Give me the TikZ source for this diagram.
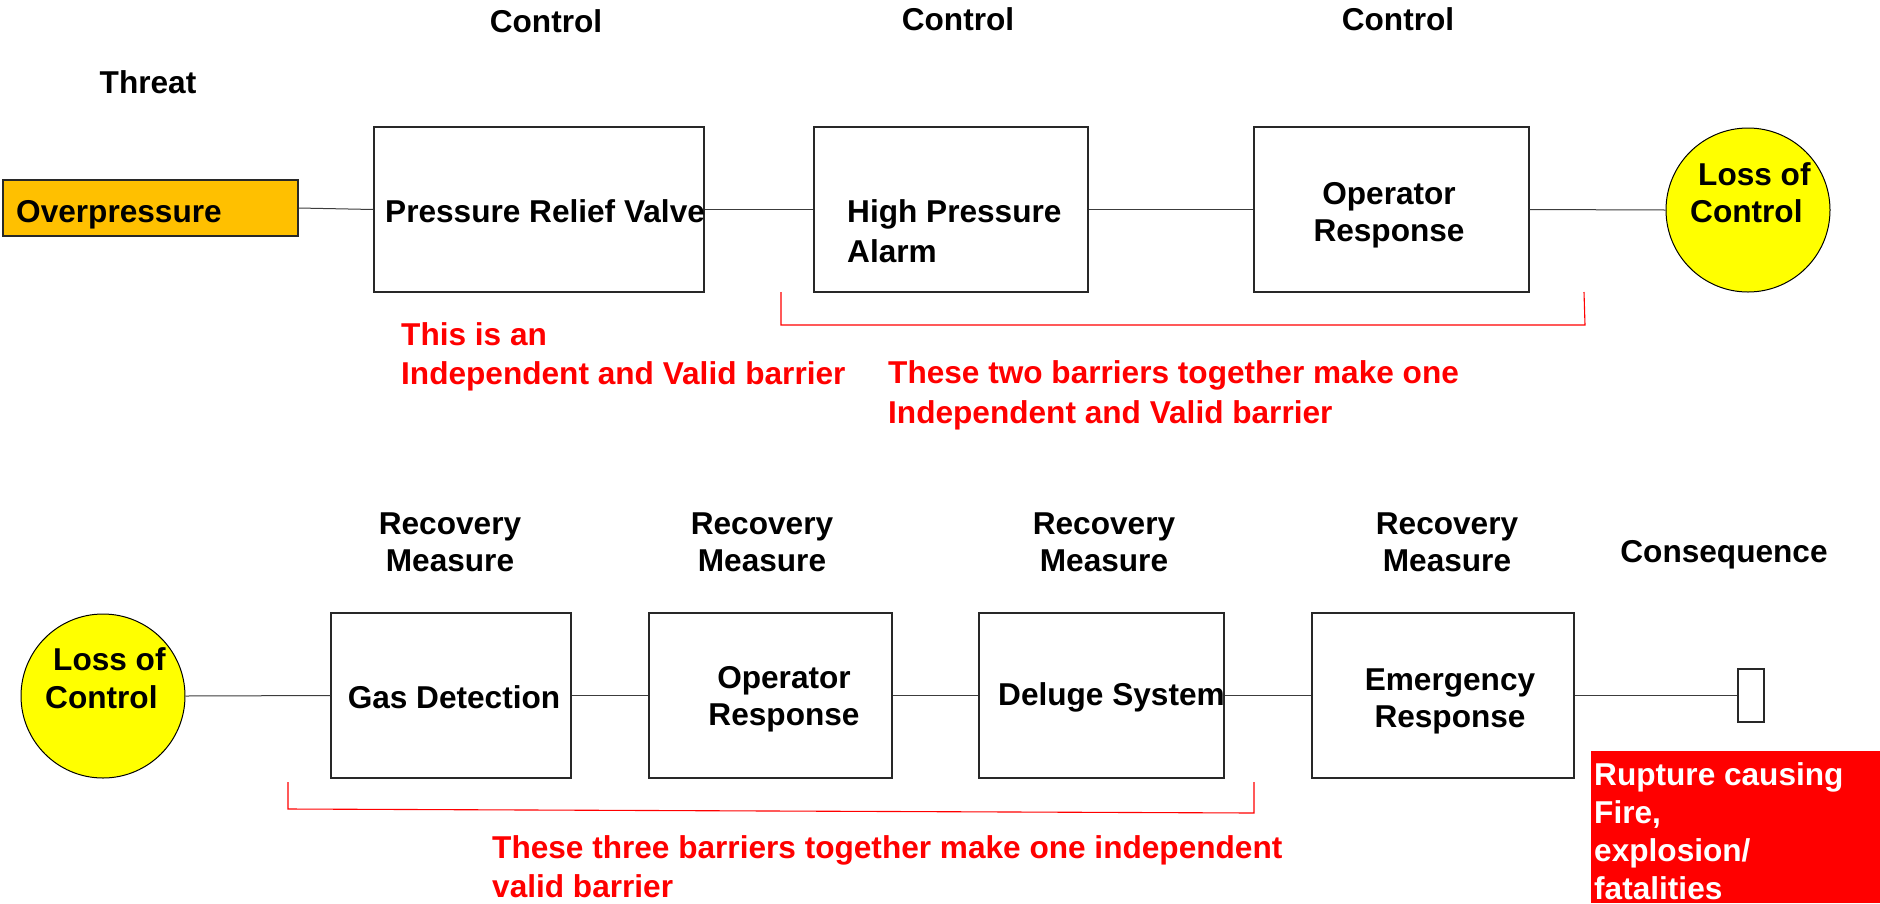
\documentclass[tikz,border=0pt]{standalone}
\usepackage{fontspec}
\setmainfont{Liberation Sans}
\definecolor{orangefill}{RGB}{255,192,0}
\definecolor{yellowfill}{RGB}{255,255,0}
\definecolor{redc}{RGB}{255,0,0}
\definecolor{linegray}{RGB}{60,60,60}
\definecolor{boxline}{RGB}{40,40,40}
\begin{document}
\begin{tikzpicture}[x=1pt,y=-1pt,
  box/.style={draw=boxline, line width=1.1pt, fill=white, inner sep=0pt},
  circ/.style={circle, draw=black, line width=1pt, fill=yellowfill, inner sep=0pt, minimum size=164pt},
  conn/.style={draw=linegray, line width=1pt},
  brack/.style={draw=redc, line width=1.1pt},
  txt/.style={font=\fontsize{31.6}{38}\selectfont\bfseries, inner sep=0pt, anchor=base west},
  ctxt/.style={txt, anchor=base},
  rtxt/.style={txt, text=redc},
  wtxt/.style={txt, text=white}]
\useasboundingbox (0,0) rectangle (1880,903);

% ---------- top row ----------
\node[ctxt] (threat) at (148,93) {Threat};
\node[ctxt] (c1) at (546,32) {Control};
\node[ctxt] (c2) at (958,30) {Control};
\node[ctxt] (c3) at (1398,30) {Control};

\node[box, fill=orangefill, minimum width=295pt, minimum height=56pt] (over) at (150.5,208) {};
\node[box, minimum width=330pt, minimum height=165pt] (prv) at (539,209.5) {};
\node[box, minimum width=274pt, minimum height=165pt] (hpa) at (951,209.5) {};
\node[box, minimum width=275pt, minimum height=165pt] (opr1) at (1391.5,209.5) {};
\node[circ] (loc1) at (1748,210) {};

\draw[conn] (over.east) -- (prv.west);
\draw[conn] (prv.east) -- (hpa.west);
\draw[conn] (hpa.east) -- (opr1.west);
\draw[conn] (opr1.east) -- (loc1.west);

\node[txt] (t-over) at (16,222) {Overpressure};
\node[txt] (t-prv) at (385,222) {Pressure Relief Valve};
\node[txt] (t-hpa1) at (847,222) {High Pressure};
\node[txt] (t-hpa2) at (847,262) {Alarm};
\node[ctxt] (t-opr1a) at (1389,204) {Operator};
\node[ctxt] (t-opr1b) at (1389,241) {Response};
\node[txt] (t-loc1a) at (1698,185) {Loss of};
\node[txt] (t-loc1b) at (1690,222) {Control};

\coordinate (b1a) at (781,292);
\coordinate (b1b) at (781,325);
\coordinate (b1c) at (1585,325);
\coordinate (b1d) at (1584,292);
\draw[brack] (b1a) -- (b1b) -- (b1c) -- (b1d);

\node[rtxt] (r1a) at (401,345) {This is an};
\node[rtxt] (r1b) at (401,384) {Independent and Valid barrier};
\node[rtxt] (r2a) at (888,383) {These two barriers together make one};
\node[rtxt] (r2b) at (888,423) {Independent and Valid barrier};

% ---------- bottom row ----------
\node[ctxt] (rm1a) at (450,534) {Recovery};
\node[ctxt] (rm1b) at (450,571) {Measure};
\node[ctxt] (rm2a) at (762,534) {Recovery};
\node[ctxt] (rm2b) at (762,571) {Measure};
\node[ctxt] (rm3a) at (1104,534) {Recovery};
\node[ctxt] (rm3b) at (1104,571) {Measure};
\node[ctxt] (rm4a) at (1447,534) {Recovery};
\node[ctxt] (rm4b) at (1447,571) {Measure};
\node[ctxt] (cons) at (1724,562) {Consequence};

\node[circ] (loc2) at (103,696) {};
\node[box, minimum width=240pt, minimum height=165pt] (gas) at (451,695.5) {};
\node[box, minimum width=243pt, minimum height=165pt] (opr2) at (770.5,695.5) {};
\node[box, minimum width=245pt, minimum height=165pt] (del) at (1101.5,695.5) {};
\node[box, minimum width=262pt, minimum height=165pt] (emr) at (1443,695.5) {};
\node[box, minimum width=26pt, minimum height=53pt] (cq) at (1751,695.5) {};
\node[fill=redc, inner sep=0pt, minimum width=289pt, minimum height=152pt] (rup) at (1735.5,827) {};

\draw[conn] (loc2.east) -- (gas.west);
\draw[conn] (gas.east) -- (opr2.west);
\draw[conn] (opr2.east) -- (del.west);
\draw[conn] (del.east) -- (emr.west);
\draw[conn] (emr.east) -- (cq.west);

\node[txt] (t-loc2a) at (53,670) {Loss of};
\node[txt] (t-loc2b) at (45,708) {Control};
\node[ctxt] (t-gas) at (454,708) {Gas Detection};
\node[ctxt] (t-opr2a) at (784,688) {Operator};
\node[ctxt] (t-opr2b) at (784,725) {Response};
\node[txt] (t-del) at (998,705) {Deluge System};
\node[ctxt] (t-emr1) at (1450,690) {Emergency};
\node[ctxt] (t-emr2) at (1450,727) {Response};

\coordinate (b2a) at (288,782);
\coordinate (b2b) at (288,809);
\coordinate (b2c) at (1254,813);
\coordinate (b2d) at (1254,782);
\draw[brack] (b2a) -- (b2b) -- (b2c) -- (b2d);

\node[rtxt] (r3a) at (492,858) {These three barriers together make one independent};
\node[rtxt] (r3b) at (492,897) {valid barrier};

\node[wtxt] (w1) at (1594,785) {Rupture causing};
\node[wtxt] (w2) at (1594,823) {Fire,};
\node[wtxt] (w3) at (1594,861) {explosion/};
\node[wtxt] (w4) at (1594,899) {fatalities};
\end{tikzpicture}
\end{document}
